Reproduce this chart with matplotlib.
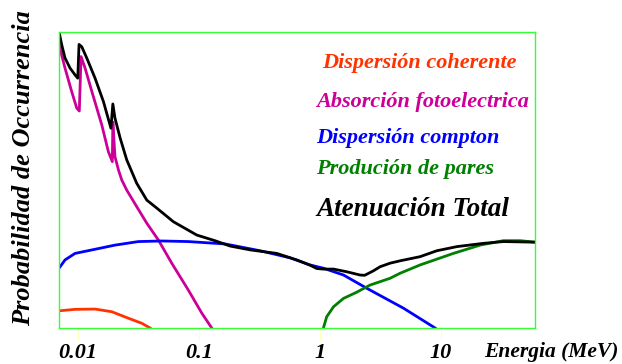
import matplotlib.pyplot as plt

# Photon interaction curves, energy in MeV vs relative probability (0-100)
E_total = [0.00701, 0.00738, 0.00785, 0.00864, 0.00950, 0.0100, 0.01025, 0.0108,
           0.0119, 0.0139, 0.0163, 0.0188, 0.0195, 0.0203, 0.0224, 0.0254, 0.0307,
           0.0372, 0.0450, 0.0617, 0.0963, 0.136, 0.181, 0.265, 0.441, 0.645, 0.832,
           0.944, 1.07, 1.30, 1.67, 2.15, 2.35, 2.77, 3.15, 3.81, 4.61, 6.74, 9.27,
           13.6, 22.5, 32.9, 60.0]
P_total = [100, 95.6, 91.2, 87.8, 85.5, 84.4, 95.8, 95.0, 91.1, 84.4, 76.5, 67.5,
           75.7, 70.9, 64.2, 56.8, 48.9, 43.2, 40.5, 35.9, 31.4, 29.5, 27.7, 26.4,
           25.2, 23.0, 21.2, 20.1, 19.9, 19.9, 19.0, 17.9, 17.8, 19.3, 20.7, 21.9,
           22.7, 24.1, 26.1, 27.5, 28.6, 29.2, 29.0]

E_photo = [0.00701, 0.00785, 0.00892, 0.00981, 0.0103, 0.01065, 0.0115, 0.0131,
           0.0158, 0.0179, 0.0193, 0.0195, 0.0203, 0.0217, 0.0231, 0.0254, 0.0307,
           0.0372, 0.0464, 0.0598, 0.0820, 0.106, 0.128]
P_photo = [95.6, 87.8, 79.8, 74.3, 73.3, 91.7, 87.8, 79.8, 68.6, 59.6, 56.2, 69.6,
           57.9, 53.4, 50.0, 46.6, 41.0, 35.4, 29.7, 21.9, 12.8, 5.0, 0]

E_compton = [0.00701, 0.00785, 0.00950, 0.0139, 0.0203, 0.0317, 0.0494, 0.0820,
             0.165, 0.321, 0.568, 0.832, 1.07, 1.57, 2.45, 4.91, 8.97]
P_compton = [20.2, 23.0, 25.2, 26.6, 28.0, 29.2, 29.4, 29.2, 28.4, 26.1, 23.7, 21.3,
             20.2, 17.9, 13.4, 6.7, 0]

E_coherent = [0.00701, 0.00950, 0.0139, 0.0191, 0.0262, 0.0338, 0.0396]
P_coherent = [5.8, 6.3, 6.4, 5.5, 3.3, 1.6, 0]

E_pair = [1.071, 1.14, 1.30, 1.57, 2.02, 2.60, 3.81, 4.61, 6.74, 12.7, 21.1, 32.9,
          45.2, 60.0]
P_pair = [0, 3.8, 7.2, 10.0, 12.1, 14.5, 16.8, 18.5, 21.3, 25.2, 28.0, 29.5, 29.5, 29.0]

ticks = [0.01, 0.1, 1, 10]
tick_labels = ['0.01', '0.1', '1', '10']

plt.rcParams['font.family'] = 'Liberation Serif'
plt.rcParams['font.weight'] = 'bold'
plt.rcParams['font.style'] = 'italic'

fig = plt.figure(figsize=(6.22, 3.64), dpi=100)
ax = fig.add_axes([59/622, 36/364, 476/622, 296/364])

lw = 2.0
ax.plot(E_coherent, P_coherent, color='#ff3300', lw=lw, solid_joinstyle='round')
ax.plot(E_photo, P_photo, color='#cc0099', lw=lw, solid_joinstyle='round')
ax.plot(E_compton, P_compton, color='#0000ff', lw=lw, solid_joinstyle='round')
ax.plot(E_pair, P_pair, color='#007f00', lw=lw, solid_joinstyle='round')
ax.plot(E_total, P_total, color='black', lw=lw, solid_joinstyle='round')

ax.set_xscale('log')
ax.set_xlim(0.007, 60)
ax.set_ylim(0, 100)
ax.set_xticks(ticks)
ax.set_xticklabels(tick_labels)
ax.minorticks_off()
ax.set_yticks([])
ax.tick_params(axis='x', direction='out', length=9.5, width=0.8, color='#ffffc0',
               pad=1.5, labelsize=16)
for s in ax.spines.values():
    s.set_color('#33ff33')
    s.set_linewidth(1.0)

# legend written as coloured text inside the frame
ax.text(0.553, 0.895, 'Dispersión coherente', transform=ax.transAxes,
        color='#ff3300', fontsize=16, va='center', ha='left')
ax.text(0.540, 0.764, 'Absorción fotoelectrica', transform=ax.transAxes,
        color='#cc0099', fontsize=16, va='center', ha='left')
ax.text(0.540, 0.642, 'Dispersión compton', transform=ax.transAxes,
        color='#0000ff', fontsize=16, va='center', ha='left')
ax.text(0.540, 0.537, 'Produción de pares', transform=ax.transAxes,
        color='#007f00', fontsize=16, va='center', ha='left')
ax.text(0.540, 0.402, 'Atenuación Total', transform=ax.transAxes,
        color='black', fontsize=19.5, va='center', ha='left')

fig.text(551.5/622, 1 - 352/364, 'Energia (MeV)', fontsize=15.5, ha='center', va='center')
fig.text(24/622, 1 - 168/364, 'Probabilidad de Occurrencia', fontsize=19,
         rotation=90, ha='center', va='center')

fig.savefig('out.png', dpi=100)
